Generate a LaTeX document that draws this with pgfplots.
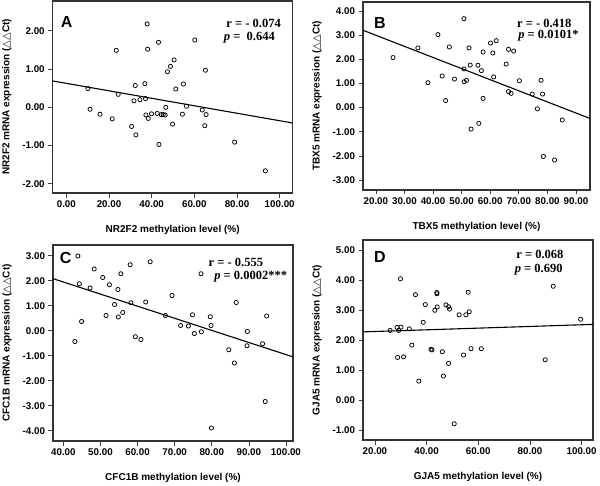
\documentclass[border=0pt]{standalone}
\usepackage{fontspec}
\setmainfont{Liberation Sans}
\newfontfamily\tms{Liberation Serif}
\newfontfamily\djv{DejaVu Sans}
\usepackage{pgfplots}
\pgfplotsset{compat=1.18}
\pgfplotsset{
 panel/.style={
  scale only axis,
  anchor=north west,
  axis line style={line width=1.3pt, black!80},
  tick style={line width=0.7pt, black!75},
  tick align=outside,
  major tick length=4.5pt,
  xtick pos=bottom, ytick pos=left,
  tick label style={font=\fontsize{9.8}{12}\selectfont\bfseries},
  label style={font=\fontsize{10}{12}\selectfont\bfseries},
  xticklabel style={/pgf/number format/fixed,/pgf/number format/fixed zerofill,/pgf/number format/precision=2,/pgf/number format/assume math mode=true},
  yticklabel style={/pgf/number format/fixed,/pgf/number format/fixed zerofill,/pgf/number format/precision=2,/pgf/number format/assume math mode=true},
  xlabel style={yshift=-10pt},
  ylabel style={yshift=4pt},
  clip=true,
 },
 pts/.style={only marks, mark=o, mark size=2.1pt, black, mark options={line width=0.75pt}},
 reg/.style={black, line width=1.1pt, no marks},
}
\tikzset{
 panellet/.style={font=\fontsize{16}{17}\selectfont\bfseries},
 panelstat/.style={anchor=east, font=\fontsize{12.5}{14}\selectfont\tms\bfseries},
}
\begin{document}
\begin{tikzpicture}
\useasboundingbox (0,0) rectangle (600pt,-485pt);
% ---------- A ----------
\begin{axis}[panel, at={(52.7pt,-1pt)}, width=240pt, height=192pt,
 xmin=-6.4, xmax=106.1, ymin=-2.24, ymax=2.78,
 xtick={0,20,40,60,80,100}, ytick={-2,-1,0,1,2},
 xlabel={NR2F2 methylation level (\%)},
 ylabel={NR2F2 mRNA expression ({\mdseries\djv △△}Ct)}]
\addplot[pts] coordinates {
(10.1,0.49) (11.1,-0.05) (15.8,-0.18) (21.5,-0.30) (23.4,1.49) (24.3,0.34)
(30.6,-0.50) (31.7,0.17) (32.6,-0.72) (32.3,0.57) (34.5,0.20) (36.8,0.62)
(37.1,0.23) (37.9,2.18) (38.1,1.52) (37.3,-0.20) (38.4,-0.29) (39.9,-0.17)
(42.6,-0.16) (43.2,1.70) (43.4,-0.97) (44.5,-0.19) (45.4,-0.19) (46.3,-0.20)
(46.6,0.00) (47.4,0.93) (48.8,1.07) (49.8,-0.44) (50.5,1.24) (51.3,0.48)
(54.4,-0.18) (54.9,0.61) (56.3,0.03) (60.2,1.76) (63.7,-0.07) (64.9,-0.48)
(65.2,0.97) (65.5,-0.19) (78.9,-0.91) (93.3,-1.66)};
\addplot[reg] coordinates {(-6.4,0.69) (106.1,-0.41)};
\node[panellet] at (rel axis cs:0.058,0.89) {A};
\node[panelstat] at (rel axis cs:0.965,0.885) {r = - 0.074};
\node[panelstat] at (rel axis cs:0.94,0.807) {{\itshape p} = \ 0.644};
\end{axis}
% ---------- B ----------
\begin{axis}[panel, at={(363pt,-2pt)}, width=227pt, height=188pt,
 xmin=15.5, xmax=94.9, ymin=-3.41, ymax=4.37,
 xtick={20,30,40,50,60,70,80,90}, ytick={-3,-2,-1,0,1,2,3,4},
 xlabel={TBX5 methylation level (\%)},
 ylabel={TBX5 mRNA expression ({\mdseries\djv △△}Ct)}]
\addplot[pts] coordinates {
(26.0,2.07) (34.7,2.47) (38.2,1.03) (41.7,3.02) (43.2,1.31) (44.4,0.29)
(45.7,2.51) (47.5,1.18) (50.8,3.68) (50.8,1.60) (50.9,1.07) (51.7,1.13)
(52.6,2.47) (53.0,1.76) (53.3,-0.89) (55.7,1.75) (56.0,-0.65) (56.9,1.53)
(57.5,0.38) (57.5,2.30) (60.1,2.67) (60.9,2.26) (61.2,1.27) (62.1,2.77)
(65.6,1.80) (66.4,2.41) (66.4,0.66) (67.3,0.59) (68.2,2.34) (70.2,1.11)
(74.7,0.56) (76.5,-0.05) (77.8,1.13) (78.3,0.56) (78.6,-2.02) (82.5,-2.17)
(85.2,-0.51)};
\addplot[reg] coordinates {(15.3,3.21) (94.9,-0.45)};
\node[panellet] at (rel axis cs:0.075,0.89) {B};
\node[panelstat] at (rel axis cs:0.934,0.888) {r = - 0.418};
\node[panelstat] at (rel axis cs:0.965,0.82) {{\itshape p} = 0.0101*};
\end{axis}
% ---------- C ----------
\begin{axis}[panel, at={(53pt,-245pt)}, width=240pt, height=196pt,
 xmin=37.2, xmax=101.9, ymin=-4.41, ymax=3.43,
 xtick={40,50,60,70,80,90,100}, ytick={-4,-3,-2,-1,0,1,2,3},
 xlabel={CFC1B methylation level (\%)},
 ylabel={CFC1B mRNA expression ({\mdseries\djv △△}Ct)}]
\addplot[pts] coordinates {
(43.1,-0.43) (43.9,2.99) (44.3,1.88) (44.9,0.37) (47.2,1.71) (48.3,2.47)
(50.6,2.13) (51.5,0.61) (52.4,1.84) (53.8,1.05) (54.7,1.65) (54.8,0.55)
(55.5,2.28) (56.0,0.73) (58.0,2.64) (58.2,1.12) (59.4,-0.24) (60.9,-0.35)
(62.2,1.15) (63.4,2.76) (67.5,0.61) (69.3,1.41) (71.6,0.21) (73.7,0.19)
(74.8,0.64) (75.3,-0.11) (77.1,2.28) (77.2,-0.04) (79.6,0.56) (79.8,0.21)
(79.9,-3.89) (84.6,-0.76) (86.1,-1.29) (86.6,1.13) (89.6,-0.03) (89.5,-0.60)
(93.7,-0.52) (94.4,-2.83) (94.8,0.59)};
\addplot[reg] coordinates {(37.1,2.09) (102.0,-1.05)};
\node[panellet] at (rel axis cs:0.053,0.934) {C};
\node[panelstat] at (rel axis cs:0.89,0.91) {r = - 0.555};
\node[panelstat] at (rel axis cs:0.99,0.84) {{\itshape p} = 0.0002***};
\end{axis}
% ---------- D ----------
\begin{axis}[panel, at={(363pt,-240pt)}, width=230pt, height=200pt,
 xmin=15.4, xmax=104.4, ymin=-1.33, ymax=5.33,
 xtick={20,40,60,80,100}, ytick={-1,0,1,2,3,4,5},
 xlabel={GJA5 methylation level (\%)},
 ylabel={GJA5 mRNA expression ({\mdseries\djv △△}Ct)}]
\addplot[pts] coordinates {
(25.9,2.32) (28.6,2.42) (28.8,1.42) (29.2,2.32) (30.1,2.43) (29.9,4.04)
(31.1,1.44) (33.3,2.37) (34.3,1.83) (35.7,3.51) (37.0,0.63) (38.7,2.59)
(39.5,3.18) (41.7,1.69) (42.1,1.67) (43.2,2.99) (44.0,3.58) (44.0,3.54)
(44.1,3.10) (46.1,1.61) (46.5,0.80) (47.5,3.17) (48.5,3.11) (48.5,1.22)
(48.9,3.03) (50.7,-0.79) (52.6,2.84) (54.3,1.50) (55.2,2.84) (56.1,3.59)
(56.5,2.94) (57.2,1.71) (61.2,1.71) (85.9,1.34) (89.0,3.79) (99.6,2.69)};
\addplot[reg] coordinates {(15.2,2.27) (104.5,2.52)};
\node[panellet] at (rel axis cs:0.074,0.915) {D};
\node[panelstat] at (rel axis cs:0.887,0.93) {r = 0.068};
\node[panelstat] at (rel axis cs:0.883,0.854) {{\itshape p} = 0.690};
\end{axis}
\end{tikzpicture}
\end{document}
